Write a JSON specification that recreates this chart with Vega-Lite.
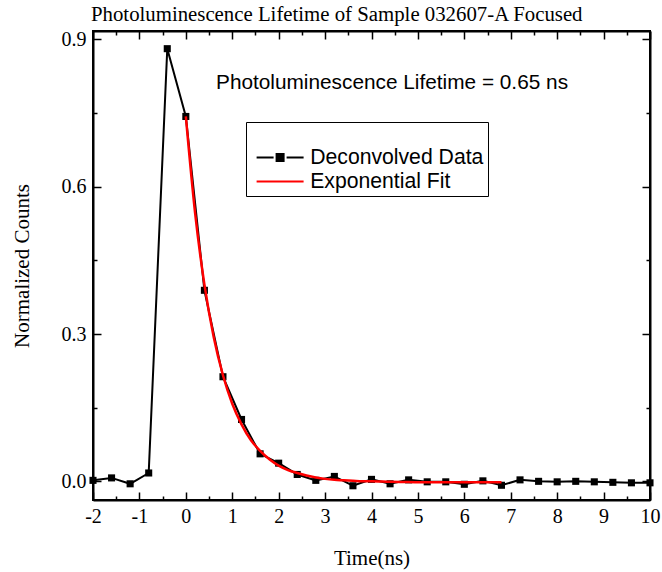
{
  "$schema": "https://vega.github.io/schema/vega-lite/v6.json",
  "width": 557,
  "height": 469,
  "autosize": {"type": "none"},
  "padding": {"left": 93, "top": 31, "right": 12, "bottom": 72},
  "background": "white",
  "title": {
    "text": "Photoluminescence Lifetime of Sample 032607-A Focused",
    "font": "Liberation Serif",
    "fontSize": 20.8,
    "fontWeight": "normal",
    "color": "black",
    "anchor": "start",
    "frame": "group",
    "offset": 4,
    "dx": -2
  },
  "config": {
    "view": {"stroke": "black", "strokeWidth": 2},
    "axis": {
      "grid": false,
      "domainColor": "black",
      "domainWidth": 2,
      "tickColor": "black",
      "tickWidth": 1.5,
      "labelFont": "Liberation Serif",
      "labelFontSize": 20,
      "labelColor": "black",
      "labelFlush": false,
      "labelOverlap": false,
      "labelBound": false,
      "titleFont": "Liberation Serif",
      "titleFontSize": 21,
      "titleFontWeight": "normal",
      "titleColor": "black"
    }
  },
  "datasets": {
    "decon": [
      {"t": -2.0, "y": 0.002}, {"t": -1.6, "y": 0.007}, {"t": -1.2, "y": -0.005}, {"t": -0.8, "y": 0.017},
      {"t": -0.4, "y": 0.881}, {"t": 0.0, "y": 0.743}, {"t": 0.4, "y": 0.389}, {"t": 0.8, "y": 0.213},
      {"t": 1.2, "y": 0.126}, {"t": 1.6, "y": 0.056}, {"t": 2.0, "y": 0.037}, {"t": 2.4, "y": 0.014},
      {"t": 2.8, "y": 0.002}, {"t": 3.2, "y": 0.010}, {"t": 3.6, "y": -0.009}, {"t": 4.0, "y": 0.004},
      {"t": 4.4, "y": -0.005}, {"t": 4.8, "y": 0.003}, {"t": 5.2, "y": -0.001}, {"t": 5.6, "y": -0.001},
      {"t": 6.0, "y": -0.006}, {"t": 6.4, "y": 0.001}, {"t": 6.8, "y": -0.008}, {"t": 7.2, "y": 0.003},
      {"t": 7.6, "y": 0.000}, {"t": 8.0, "y": -0.001}, {"t": 8.4, "y": 0.000}, {"t": 8.8, "y": -0.001},
      {"t": 9.2, "y": -0.002}, {"t": 9.6, "y": -0.003}, {"t": 10.0, "y": -0.003}
    ],
    "fit": [
      {"t": 0.0, "y": 0.743}, {"t": 0.2, "y": 0.546}, {"t": 0.4, "y": 0.401}, {"t": 0.6, "y": 0.294},
      {"t": 0.8, "y": 0.216}, {"t": 1.0, "y": 0.158}, {"t": 1.2, "y": 0.116}, {"t": 1.4, "y": 0.084},
      {"t": 1.6, "y": 0.062}, {"t": 1.8, "y": 0.045}, {"t": 2.0, "y": 0.032}, {"t": 2.2, "y": 0.023},
      {"t": 2.4, "y": 0.017}, {"t": 2.6, "y": 0.012}, {"t": 2.8, "y": 0.008}, {"t": 3.0, "y": 0.005},
      {"t": 3.2, "y": 0.003}, {"t": 3.4, "y": 0.002}, {"t": 3.6, "y": 0.001}, {"t": 3.8, "y": 0.0},
      {"t": 4.0, "y": 0.0}, {"t": 4.4, "y": -0.001}, {"t": 4.8, "y": -0.0015}, {"t": 5.2, "y": -0.002},
      {"t": 5.6, "y": -0.002}, {"t": 6.0, "y": -0.002}, {"t": 6.4, "y": -0.002}, {"t": 6.8, "y": -0.002}
    ]
  },
  "layer": [
    {
      "data": {"name": "decon"},
      "mark": {"type": "line", "strokeWidth": 2, "point": {"shape": "square", "size": 50, "filled": true}},
      "encoding": {
        "x": {
          "field": "t", "type": "quantitative",
          "scale": {"domain": [-2, 10], "nice": false, "zero": false},
          "axis": {
            "orient": "bottom",
            "title": "Time(ns)",
            "values": [-2, -1.5, -1, -0.5, 0, 0.5, 1, 1.5, 2, 2.5, 3, 3.5, 4, 4.5, 5, 5.5, 6, 6.5, 7, 7.5, 8, 8.5, 9, 9.5, 10],
            "labelExpr": "datum.value % 1 === 0 ? '' + datum.value : ''",
            "tickSize": {"condition": {"test": "datum.value % 1 === 0", "value": -8}, "value": -4},
            "labelPadding": 14,
            "titlePadding": 17
          }
        },
        "y": {
          "field": "y", "type": "quantitative",
          "scale": {"domain": [-0.038, 0.917], "nice": false, "zero": false},
          "axis": {
            "orient": "left",
            "title": "Normalized Counts",
            "values": [0, 0.15, 0.3, 0.45, 0.6, 0.75, 0.9],
            "labelExpr": "abs((datum.value * 100) % 30) < 1 ? format(datum.value, '.1f') : ''",
            "tickSize": {"condition": {"test": "abs((datum.value * 100) % 30) < 1", "value": -8}, "value": -4},
            "labelPadding": 15,
            "titlePadding": 29
          }
        },
        "color": {
          "datum": "Deconvolved Data",
          "type": "nominal",
          "scale": {"domain": ["Deconvolved Data", "Exponential Fit"], "range": ["black", "red"]},
          "legend": {
            "orient": "none",
            "legendX": 153,
            "legendY": 91,
            "title": " ",
            "titleFontSize": 10,
            "titlePadding": 11,
            "padding": 4,
            "strokeColor": "black",
            "fillColor": "white",
            "symbolType": "M-4.7,0H-1.3M1.3,0H4.7M-0.7,-0.7H0.7V0.7H-0.7Z",
            "symbolSize": 100,
            "symbolStrokeWidth": 2,
            "symbolOffset": 19.5,
            "labelFont": "Liberation Sans",
            "labelFontSize": 21.2,
            "labelColor": "black",
            "labelLimit": 400,
            "labelOffset": 19.5,
            "rowPadding": 2,
            "encode": {
              "symbols": {
                "update": {
                  "shape": {"signal": "datum.value === 'Exponential Fit' ? 'M-4.7,0H4.7' : 'M-4.7,0H-1.3M1.3,0H4.7M-0.7,-0.7H0.7V0.7H-0.7Z'"},
                  "fill": {"signal": "datum.value === 'Exponential Fit' ? 'transparent' : 'black'"},
                  "stroke": {"signal": "datum.value === 'Exponential Fit' ? 'red' : 'black'"},
                  "strokeWidth": {"value": 2},
                  "opacity": {"value": 1}
                }
              }
            }
          }
        }
      }
    },
    {
      "data": {"name": "decon"},
      "mark": {"type": "point", "opacity": 0},
      "encoding": {
        "x": {
          "field": "t", "type": "quantitative",
          "axis": {
            "orient": "top", "title": null, "labels": false,
            "values": [-2, -1.5, -1, -0.5, 0, 0.5, 1, 1.5, 2, 2.5, 3, 3.5, 4, 4.5, 5, 5.5, 6, 6.5, 7, 7.5, 8, 8.5, 9, 9.5, 10],
            "tickSize": {"condition": {"test": "datum.value % 1 === 0", "value": -8}, "value": -4}
          }
        },
        "y": {
          "field": "y", "type": "quantitative",
          "axis": {
            "orient": "right", "title": null, "labels": false,
            "values": [0, 0.15, 0.3, 0.45, 0.6, 0.75, 0.9],
            "tickSize": {"condition": {"test": "abs((datum.value * 100) % 30) < 1", "value": -8}, "value": -4}
          }
        }
      }
    },
    {
      "data": {"name": "fit"},
      "mark": {"type": "line", "strokeWidth": 2.5, "interpolate": "monotone"},
      "encoding": {
        "x": {"field": "t", "type": "quantitative", "axis": null},
        "y": {"field": "y", "type": "quantitative", "axis": null},
        "color": {"datum": "Exponential Fit", "type": "nominal"}
      }
    },
    {
      "data": {"values": [{}]},
      "mark": {"type": "text", "font": "Liberation Sans", "fontSize": 20.8, "align": "left", "baseline": "middle", "color": "black"},
      "encoding": {
        "x": {"datum": 0.65, "type": "quantitative", "axis": null},
        "y": {"datum": 0.811, "type": "quantitative", "axis": null},
        "text": {"value": "Photoluminescence Lifetime = 0.65 ns"}
      }
    }
  ],
  "resolve": {"axis": {"x": "independent", "y": "independent"}}
}
